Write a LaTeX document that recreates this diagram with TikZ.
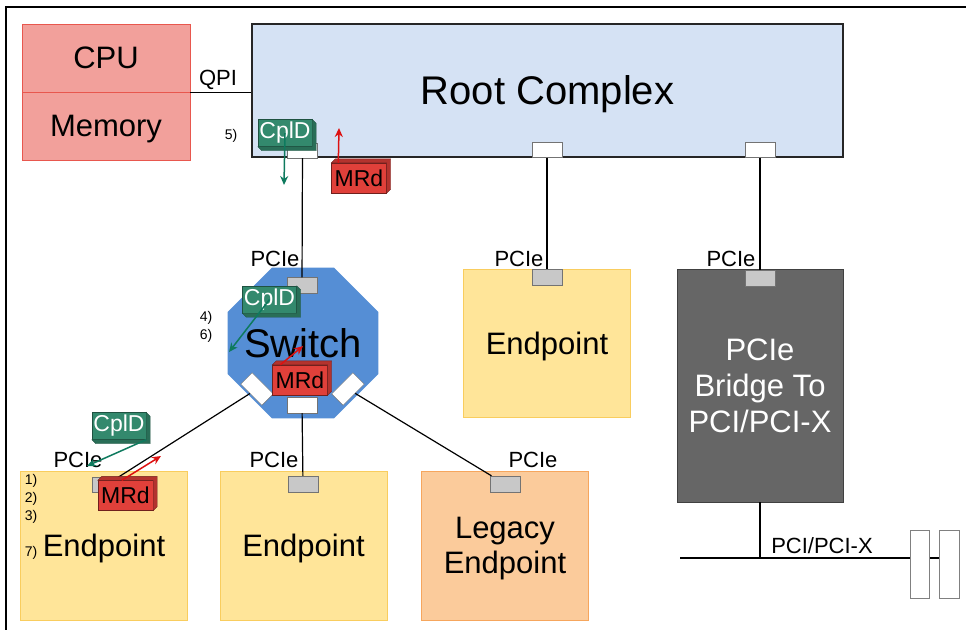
\documentclass[tikz,border=0pt]{standalone}
\usepackage{fontspec}
\setmainfont{Liberation Sans}
\usetikzlibrary{shapes.geometric,arrows.meta}

\definecolor{cpupink}{HTML}{F2A09B}
\definecolor{cpuline}{HTML}{E8574E}
\definecolor{rootblue}{HTML}{D5E2F4}
\definecolor{switchblue}{HTML}{558ED5}
\definecolor{epyellow}{HTML}{FFE599}
\definecolor{epline}{HTML}{F9CD5E}
\definecolor{legpeach}{HTML}{FBCB9B}
\definecolor{legline}{HTML}{F6A65D}
\definecolor{bridgegray}{HTML}{666666}
\definecolor{portgray}{HTML}{C8C8C8}
\definecolor{cpldgreen}{HTML}{33896D}
\definecolor{arrowgreen}{HTML}{0E7A5E}
\definecolor{mrdred}{HTML}{E0403A}
\definecolor{arrowred}{HTML}{DD1111}

\newcommand{\pxfont}[1]{\fontsize{#1}{#1}\selectfont}

\begin{document}
\begin{tikzpicture}[x=1pt,y=-1pt,>={Stealth[length=9pt,width=8pt]},thick,
    block/.style={draw,rectangle,inner sep=0pt,align=center},
    endpoint/.style={block,fill=epyellow,draw=epline,minimum width=167pt,minimum height=149pt,font=\pxfont{31},text depth=0pt},
    port/.style={draw=gray!90!black,fill=portgray,thin,minimum width=30pt,minimum height=16pt,inner sep=0pt},
    wport/.style={port,fill=white},
    cpld/.style={fill=cpldgreen,draw=cpldgreen!60!black,thin,text=white,font=\pxfont{23},minimum width=54pt,minimum height=27pt,inner sep=0pt},
    mrd/.style={fill=mrdred,draw=mrdred!50!black,thin,text=black,font=\pxfont{23},minimum width=55pt,minimum height=30pt,inner sep=0pt},
    cpldside/.style={fill=cpldgreen!80!black,draw=cpldgreen!60!black,thin},
    mrdside/.style={fill=mrdred!80!black,draw=mrdred!50!black,thin},
    lbl/.style={font=\pxfont{22},inner sep=0pt},
    num/.style={font=\pxfont{14},inner sep=0pt},
    link/.style={draw=black,line width=1.2pt},
    bus/.style={draw=black,line width=2.6pt}]
    \useasboundingbox (0,0) rectangle (966,630);

    % frame
    \coordinate (fa) at (6,7);
    \coordinate (fb) at (966,7);
    \coordinate (fc) at (6,630);
    \draw[line width=1.5pt] (fb) -- (fa) -- (fc);

    % host side
    \node[block,fill=cpupink,draw=cpuline,minimum width=168pt,minimum height=68pt,font=\pxfont{31}] (cpu) at (106,58) {CPU};
    \node[block,fill=cpupink,draw=cpuline,minimum width=168pt,minimum height=68pt,font=\pxfont{31},text depth=0pt] (mem) at (106,126) {Memory};
    \node[block,fill=rootblue,draw=black!85,line width=1.5pt,minimum width=591pt,minimum height=133pt,font=\pxfont{40},text depth=0pt] (root) at (547.5,90.5) {Root Complex};
    \node[wport,minimum height=15pt] (rcp1) at (302.5,150.5) {};
    \node[wport,minimum height=15pt] (rcp2) at (547,150) {};
    \node[wport,minimum height=15pt] (rcp3) at (760,150) {};
    \draw[link] (cpu.south east) -- (cpu.south east -| root.west);
    \node[lbl] (qpi) at (218,80) {QPI};

    % switch
    \node[regular polygon,regular polygon sides=8,fill=switchblue,minimum size=163pt,inner sep=0pt] (sw) at (303,343) {};
    \node[font=\pxfont{40},inner sep=0pt] (swtext) at (sw.center) {Switch};
    \node[port] (swtop) at (302,285.5) {};
    \node[wport,rotate=-45] (swleft) at (257,389) {};
    \node[wport,rotate=45] (swright) at (348,389) {};
    \node[wport] (swbot) at (302,405) {};

    % endpoints
    \node[endpoint,minimum height=148pt] (ep1) at (547,343) {Endpoint};
    \node[port] (ep1port) at (547,277) {};
    \node[block,fill=bridgegray,draw=black!75,minimum width=166pt,minimum height=233pt,text=white,font=\pxfont{31},execute at begin node=\setlength{\baselineskip}{36pt}] (bridge) at (760,385.5) {PCIe\\Bridge To\\PCI/PCI-X};
    \node[port] (brport) at (760,278) {};
    \node[endpoint] (ep2) at (104,545.5) {Endpoint};
    \node[port,minimum width=28pt,minimum height=15pt] (ep2port) at (106,485) {};
    \node[endpoint] (ep3) at (303.5,545.5) {Endpoint};
    \node[port] (ep3port) at (303,484) {};
    \node[endpoint,fill=legpeach,draw=legline,execute at begin node=\setlength{\baselineskip}{35pt}] (leg) at (505,545.5) {Legacy\\Endpoint};
    \node[port] (legport) at (505,484) {};

    \path[link]
        (rcp1) edge (swtop)
        (rcp2) edge (ep1port)
        (rcp3) edge (brport)
        (swleft) edge (ep2port)
        (swbot) edge (ep3port)
        (swright) edge (legport)
        ;

    % PCI bus
    \coordinate (busL) at (680,558);
    \coordinate (busR) at (939,558);
    \coordinate (busT) at (bridge.south |- busL);
    \draw[bus] (busL) -- (busR);
    \draw[bus] (bridge.south) -- (busT);
    \node[block,fill=white,draw=gray,minimum width=19pt,minimum height=68pt] (slot1) at (919.5,564) {};
    \node[block,fill=white,draw=gray,minimum width=20pt,minimum height=68pt] (slot2) at (949,564) {};
    \node[lbl] (buslbl) at (822,546) {PCI/PCI-X};

    % PCIe labels
    \node[lbl] (l1) at (275,259) {PCIe};
    \node[lbl] (l2) at (519,259) {PCIe};
    \node[lbl] (l3) at (731,259) {PCIe};
    \node[lbl] (l4) at (78,460) {PCIe};
    \node[lbl] (l5) at (274,460) {PCIe};
    \node[lbl] (l6) at (533,460) {PCIe};

    % packets
    \node[cpld] (c1) at (285,133) {CplD};
    \node[cpld] (c2) at (269.5,299.5) {CplD};
    \node[cpld] (c3) at (119,426) {CplD};
    \node[mrd] (m1) at (359,178) {MRd};
    \node[mrd] (m2) at (300,380) {MRd};
    \node[mrd] (m3) at (125.5,495.5) {MRd};
    \foreach \p in {c1,c2,c3}
        \filldraw[cpldside] (\p.north east) -- ([shift={(4,4)}]\p.north east) -- ([shift={(4,4)}]\p.south east) -- ([shift={(4,4)}]\p.south west) -- (\p.south west) -- (\p.south east) -- cycle;
    \foreach \p in {m1,m2,m3}
        \filldraw[mrdside] (\p.south east) -- ([shift={(4,-4)}]\p.south east) -- ([shift={(4,-4)}]\p.north east) -- ([shift={(4,-4)}]\p.north west) -- (\p.north west) -- (\p.north east) -- cycle;

    \coordinate (g1) at (284,185);
    \coordinate (g2) at (229,352);
    \coordinate (g3) at (87,466);
    \coordinate (r1) at (339,128);
    \coordinate (r2) at (303,346);
    \coordinate (r3) at (161,456);
    \draw[->,arrowgreen,line width=1.5pt] (c1.center) -- (g1);
    \draw[->,arrowgreen,line width=1.5pt] (c2.center) -- (g2);
    \draw[->,arrowgreen,line width=1.5pt] (c3.south east) -- (g3);
    \draw[->,arrowred,line width=1.5pt] ([xshift=7pt]m1.north west) -- (r1);
    \draw[->,arrowred,line width=1.5pt] ([xshift=8pt]m2.north west) -- (r2);
    \draw[->,arrowred,line width=1.5pt] ([xshift=24pt]m3.north west) -- (r3);

    % steps
    \node[num] (s5) at (231,136) {5)};
    \node[num] (s4) at (206,318) {4)};
    \node[num] (s6) at (206,336) {6)};
    \node[num] (s1) at (31,481) {1)};
    \node[num] (s2) at (31,499) {2)};
    \node[num] (s3) at (31,517) {3)};
    \node[num] (s7) at (31,553) {7)};
\end{tikzpicture}
\end{document}
